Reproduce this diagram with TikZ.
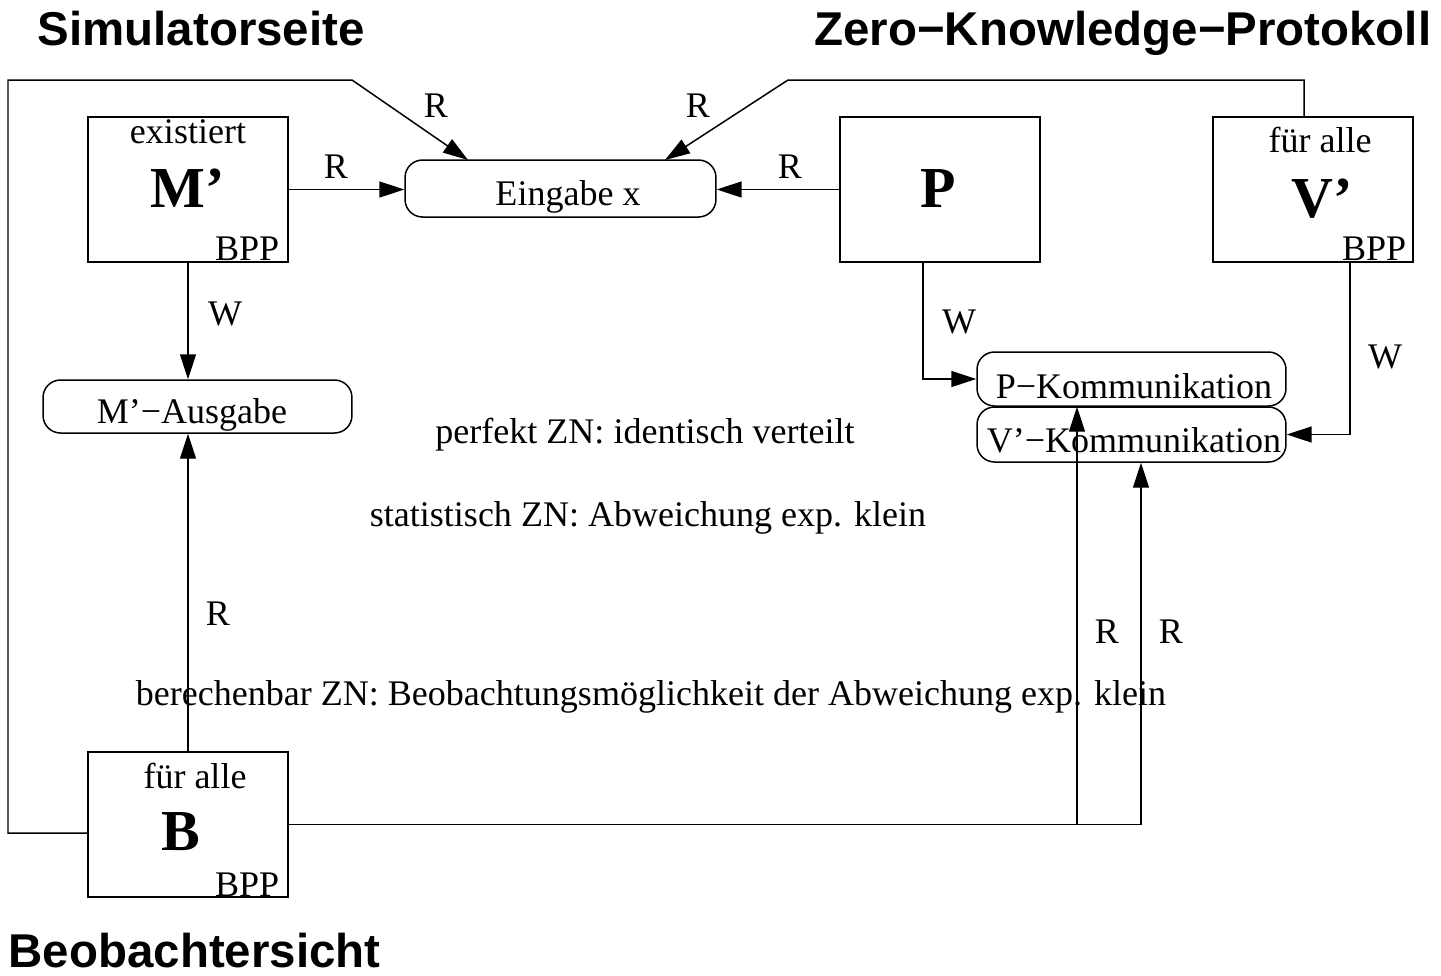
\documentclass[tikz,border=0pt]{standalone}
\usepackage{fontspec}
\setmainfont{Liberation Serif}
\newfontfamily\headfont{Liberation Sans}
\usetikzlibrary{arrows.meta}

\newcommand{\lblsize}{\fontsize{20.5}{24}\selectfont}

\begin{document}
\begin{tikzpicture}[x=0.02cm, y=-0.02cm, line width=0.85pt,
        >={Triangle[length=0.5cm,width=0.32cm]},
        box/.style={draw, minimum width=4cm, minimum height=2.9cm, inner sep=0pt},
        rbox/.style={draw, rounded corners=0.35cm, minimum width=6.18cm, inner sep=0pt},
        lbl/.style={font=\lblsize, inner sep=0pt, anchor=base},
        big/.style={font=\fontsize{33}{36}\selectfont\bfseries, inner sep=0pt, anchor=base},
        head/.style={font=\headfont\fontsize{27}{30}\selectfont\bfseries, inner sep=0pt}]
        \useasboundingbox (0,0) rectangle (1441,975);

        % Headings
        \node[head, anchor=base west] (hsim) at (37,45) {Simulatorseite};
        \node[head, anchor=base east] (hzk) at (1432,45) {Zero−Knowledge−Protokoll};
        \node[head, anchor=base west] (hbeo) at (8,967) {Beobachtersicht};

        % Boxes for the machines
        \node[box] (mbox) at (188,189.5) {};
        \node[box] (pbox) at (940,189.5) {};
        \node[box] (vbox) at (1313,189.5) {};
        \node[box] (bbox) at (188,824.5) {};

        \node[lbl] (mex) at (188,143) {existiert};
        \node[big] (mname) at (188,207) {M'};
        \node[lbl, anchor=base east] (mbpp) at (280,260) {BPP};
        \node[big] (pname) at (938,207) {P};
        \node[lbl] (vall) at (1320,152) {für alle};
        \node[big] (vname) at (1322,217) {V'};
        \node[lbl, anchor=base east] (vbpp) at (1407,260) {BPP};
        \node[lbl] (ball) at (195,788) {für alle};
        \node[big] (bname) at (181,850) {B};
        \node[lbl, anchor=base east] (bbpp) at (280,896) {BPP};

        % Rounded boxes
        \node[rbox, minimum width=6.22cm, minimum height=1.14cm] (eing) at (560.5,188.5) {};
        \node[rbox, minimum height=1.06cm] (mausg) at (197.5,406.5) {};
        \node[rbox, minimum height=1.08cm] (pk) at (1131.5,379) {};
        \node[rbox, minimum height=1.1cm] (vk) at (1131.5,434.5) {};

        \node[lbl] (eingt) at (568,205) {Eingabe x};
        \node[lbl] (mausgt) at (192,423) {M'−Ausgabe};
        \node[lbl] (pkt) at (1134,398) {P−Kommunikation};
        \node[lbl] (vkt) at (1134,452) {V'−Kommunikation};

        % Arrows
        \draw[->] (mbox.east) -- (mbox.east -| eing.west);
        \draw[->] (pbox.west) -- (pbox.west -| eing.east);
        \draw[->] (mbox.south) -- (mbox.south |- mausg.north);
        \draw[->] (bbox.north) -- (bbox.north |- mausg.south);

        \coordinate (lcorner) at (8,80);
        \coordinate (lkink) at (352,80);
        \coordinate (lend) at (468,160);
        \draw[->] ([yshift=-0.17cm]bbox.west) -| (lcorner) -- (lkink) -- (lend);

        \coordinate (rkink) at (788,80);
        \coordinate (rend) at (665,160);
        \draw[->] ([xshift=-0.18cm]vbox.north) |- (rkink) -- (rend);

        \draw[->] ([xshift=-0.34cm]pbox.south) |- (pk.west);
        \draw[->] ([xshift=0.74cm]vbox.south) |- (vk.east);

        \coordinate (bsplit) at (1077,824.5);
        \coordinate (bturn) at (1141,824.5);
        \draw (bbox.east) -- (bturn);
        \draw[->] (bsplit) -- (bsplit |- pk.south);
        \draw[->] (bturn) -- (bturn |- vk.south);

        % Arrow labels
        \node[lbl] (rml) at (336,178) {R};
        \node[lbl] (rpl) at (790,178) {R};
        \node[lbl] (rll) at (436,117) {R};
        \node[lbl] (rrl) at (698,117) {R};
        \node[lbl] (wml) at (225,325) {W};
        \node[lbl] (wpl) at (959,333) {W};
        \node[lbl] (wvl) at (1385,368) {W};
        \node[lbl] (rbl) at (218,625) {R};
        \node[lbl] (rb1) at (1107,643) {R};
        \node[lbl] (rb2) at (1171,643) {R};

        % Free texts
        \node[lbl] (tperf) at (645,443) {perfekt ZN: identisch verteilt};
        \node[lbl] (tstat) at (648,526) {statistisch ZN: Abweichung exp. klein};
        \node[lbl] (tber) at (651,705) {berechenbar ZN: Beobachtungsmöglichkeit der Abweichung exp. klein};
\end{tikzpicture}
\end{document}
